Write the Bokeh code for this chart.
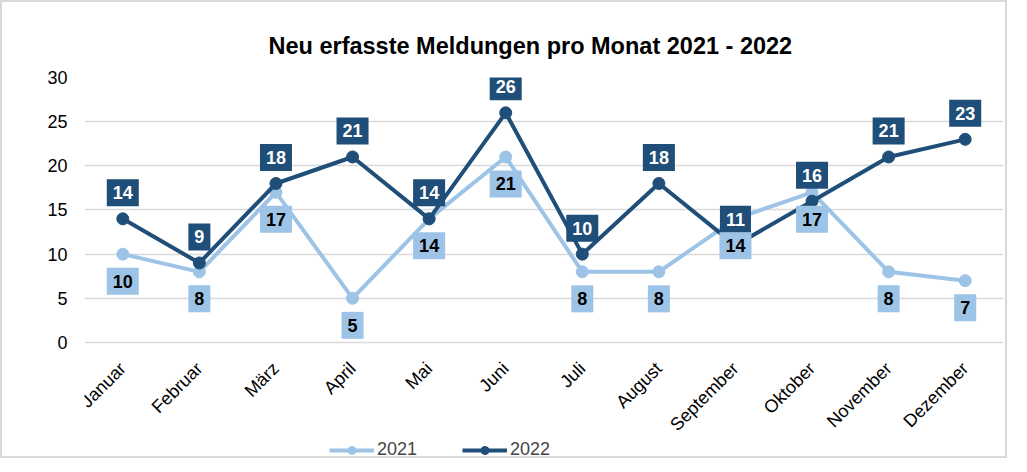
from bokeh.plotting import figure
from bokeh.models import FactorRange, Range1d, Legend, LegendItem, ColumnDataSource
from bokeh.core.properties import value
from bokeh.embed import file_html
from bokeh.resources import INLINE
import math

months = ["Januar", "Februar", "März", "April", "Mai", "Juni", "Juli",
          "August", "September", "Oktober", "November", "Dezember"]
v2021 = [10, 8, 17, 5, 14, 21, 8, 8, 14, 17, 8, 7]
v2022 = [14, 9, 18, 21, 14, 26, 10, 18, 11, 16, 21, 23]
y_ticks = [0, 5, 10, 15, 20, 25, 30]
title_text = "Neu erfasste Meldungen pro Monat 2021 - 2022"

c2021 = "#9DC3E6"
c2022 = "#1F4E79"
FONT = "Liberation Sans"

# frame spans down to the legend row; value axis shows 0..30 only
p = figure(width=1007, height=458, x_range=FactorRange(factors=months, range_padding=0),
           y_range=Range1d(-13.36, 30), x_axis_location=None,
           output_backend="svg", toolbar_location=None,
           min_border_left=82, min_border_right=6, min_border_top=75, min_border_bottom=0,
           styles={"border": "2px solid #d9d9d9"})
p.outline_line_color = None
p.background_fill_color = "white"
p.border_fill_color = "white"

p.title.text = title_text
p.title.align = "left"
p.title.offset = 184
p.title.text_font = FONT
p.title.text_font_size = "23.5px"
p.title.text_font_style = "bold"
p.title.text_color = "black"
p.title.standoff = 38

p.xgrid.grid_line_color = None
p.ygrid.grid_line_color = "#d9d9d9"
p.ygrid.grid_line_width = 1.5
p.yaxis.ticker = y_ticks
p.yaxis.axis_line_color = None
p.yaxis.major_tick_line_color = None
p.yaxis.minor_tick_line_color = None
p.yaxis.major_tick_out = 0
p.yaxis.major_tick_in = 0
p.yaxis.major_label_text_font = FONT
p.yaxis.major_label_text_color = "#000000"
p.yaxis.major_label_text_font_size = "18px"
p.yaxis.major_label_standoff = 17

src = ColumnDataSource(dict(m=months, a=v2021, b=v2022,
                            ta=[str(v) for v in v2021], tb=[str(v) for v in v2022]))

# category labels along the value 0 line, rotated 45 degrees
p.text(x="m", y=0, text="m", source=src, angle=math.pi / 4, x_offset=0, y_offset=23,
       text_align="right", text_baseline="middle", text_font=value(FONT),
       text_font_size="18px", text_color="black")

l1 = p.line("m", "a", source=src, line_color=c2021, line_width=4)
s1 = p.scatter("m", "a", source=src, size=12, fill_color=c2021, line_color=c2021)
l2 = p.line("m", "b", source=src, line_color=c2022, line_width=4)
s2 = p.scatter("m", "b", source=src, size=12, fill_color=c2022, line_color=c2022)

p.text("m", "b", text="tb", source=src, y_offset=-26, text_align="center",
       text_baseline="middle", text_font=value(FONT), text_font_size="18px",
       text_font_style="bold", text_color="white",
       background_fill_color=c2022, padding=(6, 7))
p.text("m", "a", text="ta", source=src, y_offset=27, text_align="center",
       text_baseline="middle", text_font=value(FONT), text_font_size="18px",
       text_font_style="bold", text_color="black",
       background_fill_color=c2021, padding=(6, 7))

legend = Legend(items=[LegendItem(label="2021", renderers=[l1, s1]),
                       LegendItem(label="2022", renderers=[l2, s2])],
                location=(245, 0), orientation="horizontal",
                glyph_width=45, glyph_height=20, label_height=20,
                label_text_font=FONT, label_text_font_size="18px",
                label_standoff=3, spacing=45, padding=0, margin=0,
                border_line_color=None, background_fill_alpha=0)
p.add_layout(legend, "center")

open("out.html", "w").write(file_html(p, INLINE))
